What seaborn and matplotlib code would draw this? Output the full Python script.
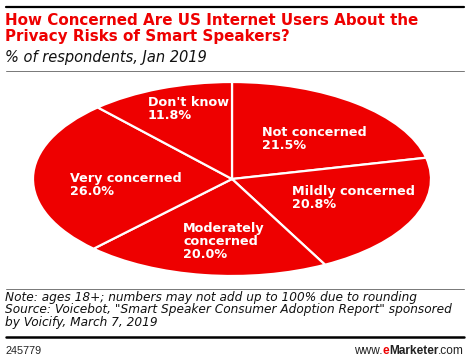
import matplotlib
matplotlib.use("Agg")
import matplotlib.pyplot as plt
import seaborn as sns

# data
categories = ["Not concerned", "Mildly concerned", "Moderately\nconcerned",
              "Very concerned", "Don't know"]
shares = [21.5, 20.8, 20.0, 26.0, 11.8]

title = "How Concerned Are US Internet Users About the\nPrivacy Risks of Smart Speakers?"
subtitle = "% of respondents, Jan 2019"
note = ("Note: ages 18+; numbers may not add up to 100% due to rounding\n"
        "Source: Voicebot, \"Smart Speaker Consumer Adoption Report\" sponsored\n"
        "by Voicify, March 7, 2019")
chart_id = "245779"

RED = "#ee0000"
W, H = 470, 358

sns.set_style("white")
plt.rcParams["font.family"] = ["DejaVu Sans"]

fig = plt.figure(figsize=(W / 100, H / 100), dpi=100)

# ellipse: centre (232,179) px, semi axes 199 x 97 px
cx, cy, a, b = 232, 179, 199, 97
ax = fig.add_axes([(cx - a) / W, (H - cy - b) / H, 2 * a / W, 2 * b / H])
wedges, _ = ax.pie(shares, startangle=90, counterclock=False, colors=[RED],
                   wedgeprops=dict(edgecolor="white", linewidth=1.6),
                   radius=1.0)
ax.set_aspect("auto")
ax.set_xlim(-1, 1)
ax.set_ylim(-1, 1)
ax.axis("off")

# label anchors (pixel, top-left of text block)
label_px = [(262, 126), (292, 185), (183, 222), (70, 172), (148, 96)]
for (px, py), cat, val in zip(label_px, categories, shares):
    fig.text(px / W, 1 - py / H, f"{cat}\n{val:.1f}%", color="white",
             fontsize=9.2, fontweight="bold", ha="left", va="top",
             linespacing=1.0)

# header
fig.add_artist(plt.Line2D([6 / W, 464 / W], [1 - 6.5 / H] * 2, color="black", lw=1.6))
fig.text(5 / W, 1 - 13 / H, title, color=RED, fontsize=10.9, fontweight="bold",
         ha="left", va="top", linespacing=1.05)
fig.text(5 / W, 1 - 50 / H, subtitle, fontsize=10.5, style="italic",
         ha="left", va="top", color="#111111")
fig.add_artist(plt.Line2D([6 / W, 464 / W], [1 - 70.5 / H] * 2, color="#777777", lw=0.7))

# footer
fig.add_artist(plt.Line2D([6 / W, 464 / W], [1 - 288.5 / H] * 2, color="#777777", lw=0.7))
fig.text(5 / W, 1 - 291 / H, note, fontsize=8.7, style="italic",
         ha="left", va="top", color="#111111", linespacing=0.95)
fig.add_artist(plt.Line2D([6 / W, 464 / W], [1 - 337 / H] * 2, color="black", lw=1.8))

ff = ["Liberation Sans"]
fig.text(6 / W, 1 - 346 / H, chart_id, fontsize=7.8, family=ff, ha="left", va="top", color="#222222")
# eMarketer logo text, built right to left
fs = 8.6
t3 = fig.text(464 / W, 1 - 345 / H, ".com", fontsize=fs, family=ff,
              ha="right", va="top", color="#222222")
fig.canvas.draw()
r = fig.canvas.get_renderer()
x = t3.get_window_extent(r).x0
t2 = fig.text(x / W, 1 - 345 / H, "Marketer", fontsize=fs, family=ff, fontweight="bold",
              ha="right", va="top", color="#222222")
x = t2.get_window_extent(r).x0
t1 = fig.text(x / W, 1 - 345 / H, "e", fontsize=fs, family=ff, fontweight="bold",
              ha="right", va="top", color=RED)
x = t1.get_window_extent(r).x0
fig.text(x / W, 1 - 345 / H, "www.", fontsize=fs, family=ff, ha="right", va="top", color="#222222")

fig.savefig("out.png", dpi=100)
